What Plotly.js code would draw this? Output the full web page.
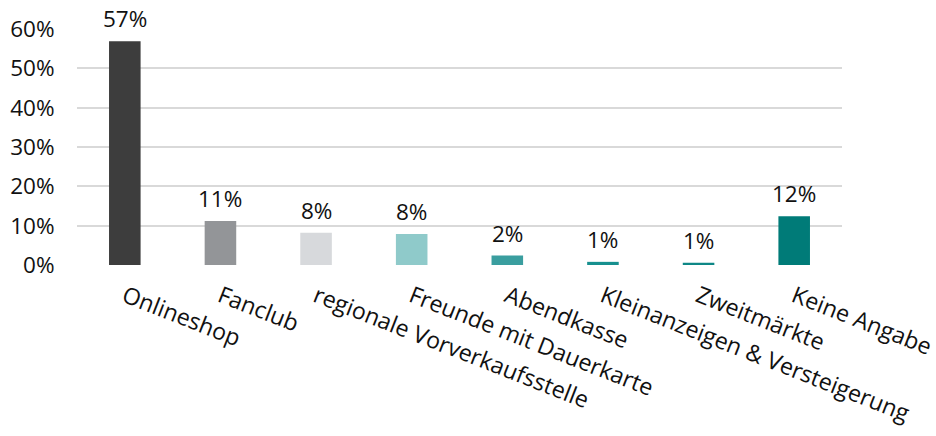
<!DOCTYPE html>
<html>
<head>
<meta charset="utf-8">
<script src="https://cdn.plot.ly/plotly-3.0.1.min.js"></script>
<style>html,body{margin:0;padding:0;background:#fff;}#chart{width:936px;height:436px;}</style>
</head>
<body>
<div id="chart"></div>
<script>
const categories = ["Onlineshop", "Fanclub", "regionale Vorverkaufsstelle", "Freunde mit Dauerkarte", "Abendkasse", "Kleinanzeigen & Versteigerung", "Zweitmärkte", "Keine Angabe"];
const values = [56.9, 11.2, 8.2, 7.9, 2.4, 0.8, 0.6, 12.4];
const valueLabels = ["57%", "11%", "8%", "8%", "2%", "1%", "1%", "12%"];
const barColors = ["#3d3d3d", "#939598", "#d7d9dc", "#8fcaca", "#3a9e9f", "#17908f", "#0e8786", "#007b78"];
const yTickVals = [0, 10, 20, 30, 40, 50, 60];
const yTickText = ["0%", "10%", "20%", "30%", "40%", "50%", "60%"];

const font = {family: "Open Sans, Noto Sans, sans-serif", size: 22.5, color: "#111111"};
const catFont = {family: "Open Sans, Noto Sans, sans-serif", size: 23.2, color: "#111111"};

const trace = {
  type: "bar",
  x: categories,
  y: values,
  marker: {color: barColors},
  hoverinfo: "none",
  cliponaxis: false
};

const annotations = categories.map((c, i) => ({
  x: c, y: values[i], text: valueLabels[i],
  showarrow: false, yanchor: "bottom", yshift: 5,
  font: font
}));

const layout = {
  width: 936, height: 436,
  margin: {l: 77, r: 94, t: 29, b: 171},
  paper_bgcolor: "#fff", plot_bgcolor: "#fff",
  font: font,
  bargap: 0.67,
  showlegend: false,
  xaxis: {
    type: "category",
    tickangle: 21.5,
    ticks: "outside", ticklen: 8, tickcolor: "rgba(0,0,0,0)",
    showgrid: false, zeroline: false, showline: false,
    tickfont: catFont
  },
  yaxis: {
    range: [0, 60],
    tickvals: yTickVals, ticktext: yTickText,
    showgrid: true, gridcolor: "#d9d9d9", gridwidth: 2,
    zeroline: false, showline: false,
    ticks: "outside", ticklen: 17, tickcolor: "rgba(0,0,0,0)",
    tickfont: font
  },
  annotations: annotations
};

Plotly.newPlot("chart", [trace], layout, {displayModeBar: false, staticPlot: true});
</script>
</body>
</html>
